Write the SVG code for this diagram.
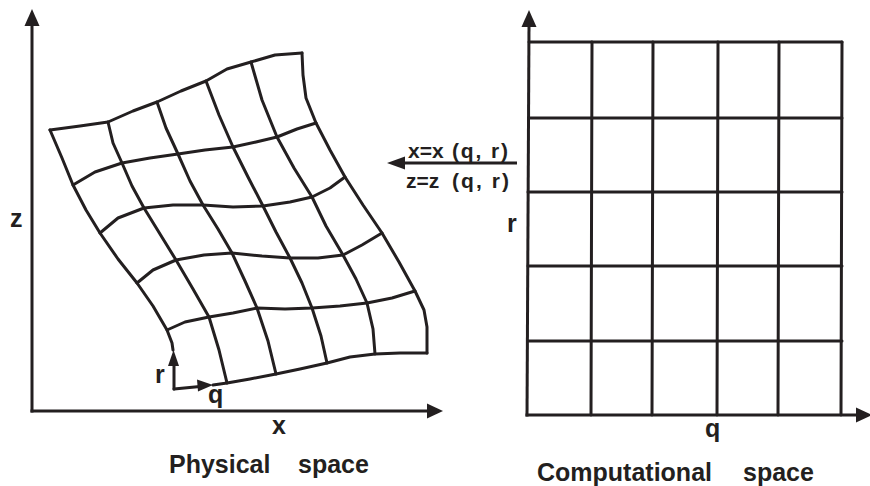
<svg xmlns="http://www.w3.org/2000/svg" width="870" height="486" viewBox="0 0 870 486">
<style>
.g{fill:none;stroke:#231f20;stroke-width:3;stroke-linejoin:round;stroke-linecap:round}
.ax{fill:none;stroke:#231f20;stroke-width:3}
.ah{fill:#231f20;stroke:none}
.t{font-family:"Liberation Sans",Arial,sans-serif;font-weight:bold;fill:#231f20;font-size:25px}
.f{font-family:"Liberation Sans",Arial,sans-serif;font-weight:bold;fill:#231f20;font-size:21px}
</style>
<rect width="870" height="486" fill="#fff"/>
<g id="physical-grid">
<polyline class="g" points="50,130 62,158 73,185 86,210 100,233 118,259 137,283 153,306 167,330 172,343 173,350"/>
<polyline class="g" points="108,122 113,143 122,163 132,186 144,208 160,234 176,260 193,289 209,317 219,350 227,383"/>
<polyline class="g" points="157,102 166,128 178,154 190,181 203,205 218,229 232,253 245,281 257,308 268,341 276,374"/>
<polyline class="g" points="206,81 219,115 233,147 248,177 263,206 276,232 290,258 302,283 312,308 321,336 327,363"/>
<polyline class="g" points="251,62 262,100 277,137 294,168 312,197 326,226 343,255 356,279 367,303 373,329 375,354"/>
<polyline class="g" points="302,53 303,75 306,98 316,123 330,150 345,177 363,205 382,233 399,262 415,291 424,310 427,327 427,353"/>
<polyline class="g" points="50,130 80,126 108,122 133,111 157,102 181,91 206,81 227,69 251,62 275,55 302,53"/>
<polyline class="g" points="73,185 95,172 122,163 150,158 178,154 205,150 233,147 256,142 277,137 297,129 316,123"/>
<polyline class="g" points="100,233 118,218 144,208 173,205 203,205 233,207 263,206 290,202 312,197 330,188 345,177"/>
<polyline class="g" points="137,283 153,270 176,260 204,255 232,253 262,256 290,258 318,258 343,255 362,245 382,233"/>
<polyline class="g" points="167,330 185,322 209,317 233,313 257,308 285,309 312,308 340,306 367,303 392,298 415,291"/>
<polyline class="g" points="213,385 227,383 250,379 276,374 300,369 327,363 350,357 375,354 400,353 427,353"/>
</g>
<g id="computational-grid">
<polyline class="g" points="529,42 842,42"/>
<polyline class="g" points="529,118 842,118"/>
<polyline class="g" points="528,192 842,192"/>
<polyline class="g" points="528,266 842,266"/>
<polyline class="g" points="528,341 842,341"/>
<polyline class="g" points="592,42 591,415"/>
<polyline class="g" points="653,42 652,415"/>
<polyline class="g" points="718,42 717,415"/>
<polyline class="g" points="779,42 778,415"/>
<polyline class="g" points="842,42 841,415"/>
</g>
<g id="connectors">
<line class="ax" x1="32" y1="412.5" x2="32" y2="24"/>
<polygon class="ah" points="32,9 24.5,26 39.5,26"/>
<line class="ax" x1="30.5" y1="411" x2="429" y2="411"/>
<polygon class="ah" points="443,411 427,403.5 427,418.5"/>
<line class="ax" x1="527" y1="416.5" x2="529" y2="25"/>
<polygon class="ah" points="529,10 521.5,27 536.5,27"/>
<line class="ax" x1="525.5" y1="415" x2="857" y2="415"/>
<polygon class="ah" points="872,415 856,407.5 856,422.5"/>
<polyline class="g" points="174,389 174,363"/>
<polygon class="ah" points="173.5,350 168,366 179,366"/>
<polyline class="g" points="174,389 200,386.5"/>
<polygon class="ah" points="213,385 197,379.5 198,391.5"/>
<line class="ax" x1="517" y1="163" x2="402" y2="163"/>
<polygon class="ah" points="387,163 405,156.5 405,169.5"/>
</g>
<g id="labels">
<text class="t" x="10" y="227">z</text>
<text class="t" x="272" y="434">x</text>
<text class="t" x="155" y="383">r</text>
<text class="t" x="208" y="403">q</text>
<text class="t" x="169" y="473"><tspan>Physical</tspan><tspan x="298">space</tspan></text>
<text class="t" x="507" y="232">r</text>
<text class="t" x="705" y="437">q</text>
<text class="t" x="537" y="481"><tspan>Computational</tspan><tspan x="743">space</tspan></text>
<text class="f" x="408" y="158">x=x <tspan x="452" textLength="56" lengthAdjust="spacing">(q, r)</tspan></text>
<text class="f" x="406" y="188">z=z <tspan x="452" textLength="57" lengthAdjust="spacing">(q, r)</tspan></text>
</g>
</svg>
